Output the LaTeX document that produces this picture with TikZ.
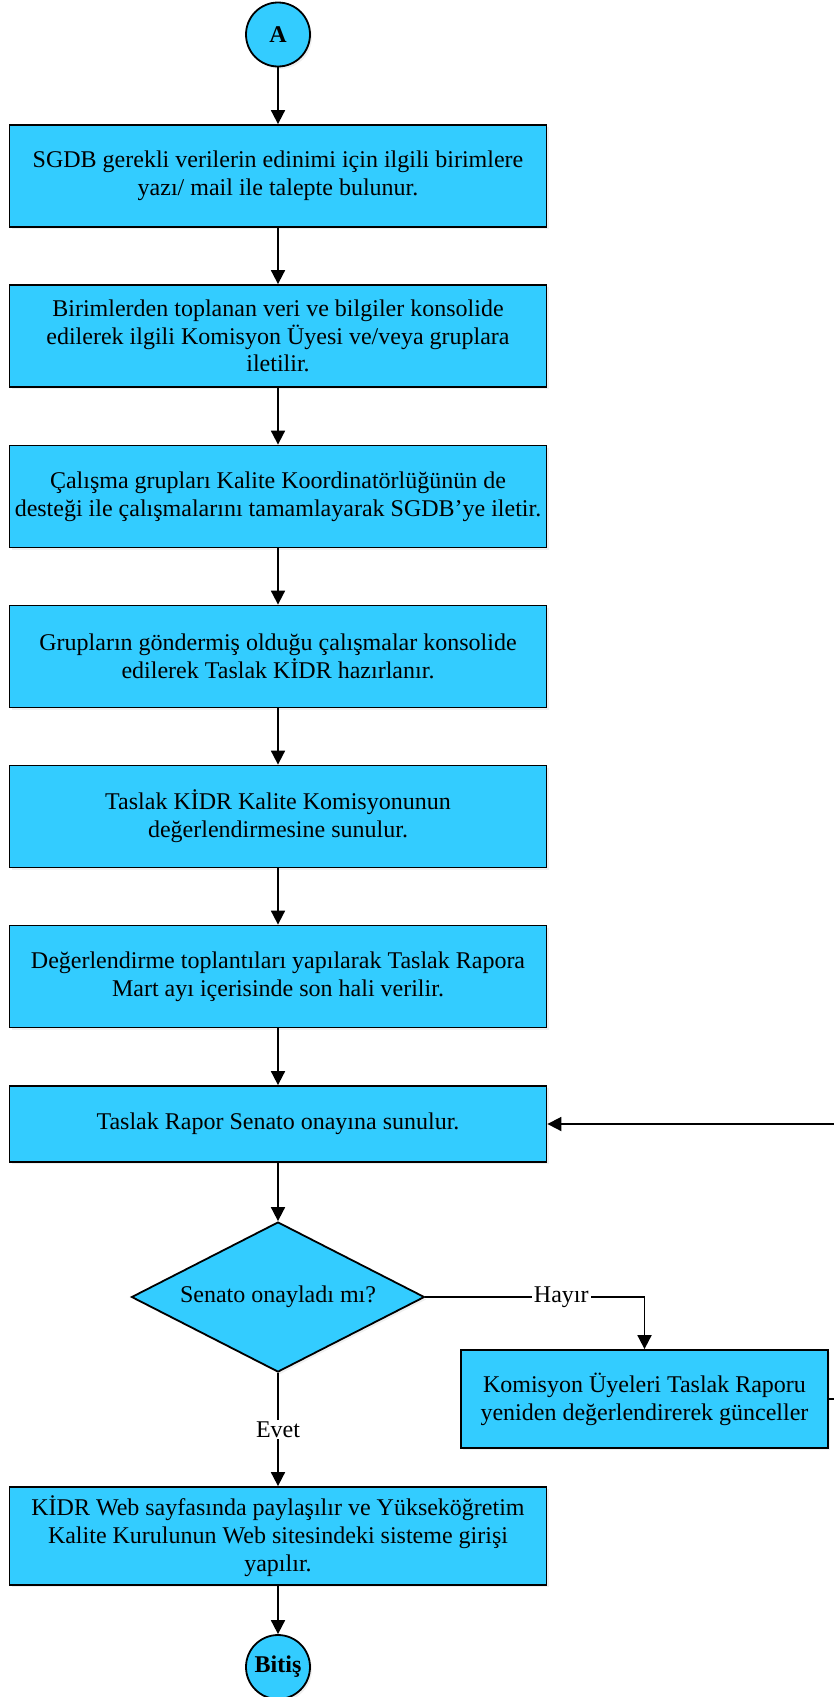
\documentclass[tikz,border=0pt]{standalone}
\usepackage{fontspec}
\setmainfont{Liberation Serif}
\usetikzlibrary{arrows.meta,shapes.geometric,shadows}
\definecolor{akis}{HTML}{33CCFF}
\begin{document}
\begin{tikzpicture}[x=0.5pt,y=-0.5pt,
        yazi/.style={font=\fontsize{12}{13.9}\selectfont},
        golge/.style={drop shadow={opacity=0.12,shadow xshift=1pt,shadow yshift=-1.2pt}},
        kutu/.style={yazi,golge,draw,fill=akis,line width=0.9pt,inner xsep=1pt,minimum width=268.5pt,minimum height=51pt,align=center},
        karar/.style={yazi,golge,draw,fill=akis,line width=0.9pt,diamond,shape aspect=2,inner sep=0pt,minimum width=146.5pt,minimum height=75pt},
        uc/.style={golge,draw,fill=akis,line width=0.9pt,circle,minimum size=32pt,inner sep=0pt,font=\fontsize{12}{13.9}\selectfont\bfseries},
        ok/.style={line width=0.9pt,-{Triangle[length=7pt,width=7pt]}},
        etiket/.style={yazi,fill=white,inner sep=1pt}]
    \useasboundingbox (0,0) rectangle (834,1697);
    \node[uc] (A) at (278,34.5) {A};
    \node[kutu] (S1) at (278,176) {SGDB gerekli verilerin edinimi için ilgili birimlere\\yazı/ mail ile talepte bulunur.};
    \node[kutu] (S2) at (278,336) {Birimlerden toplanan veri ve bilgiler konsolide\\edilerek ilgili Komisyon Üyesi ve/veya gruplara\\iletilir.};
    \node[kutu] (S3) at (278,496.5) {Çalışma grupları Kalite Koordinatörlüğünün de\\desteği ile çalışmalarını tamamlayarak SGDB’ye iletir.};
    \node[kutu] (S4) at (278,656.5) {Grupların göndermiş olduğu çalışmalar konsolide\\edilerek Taslak KİDR hazırlanır.};
    \node[kutu] (S5) at (278,816.5) {Taslak KİDR Kalite Komisyonunun\\değerlendirmesine sunulur.};
    \node[kutu] (S6) at (278,976.5) {Değerlendirme toplantıları yapılarak Taslak Rapora\\Mart ayı içerisinde son hali verilir.};
    \node[kutu,minimum height=38pt] (S7) at (278,1124) {Taslak Rapor Senato onayına sunulur.};
    \node[karar] (D) at (278,1297) {Senato onayladı mı?};
    \node[kutu,minimum width=183.5pt,minimum height=49pt] (K) at (644.5,1399) {Komisyon Üyeleri Taslak Raporu\\yeniden değerlendirerek günceller};
    \node[kutu,minimum height=49pt] (S8) at (278,1536) {KİDR Web sayfasında paylaşılır ve Yükseköğretim\\Kalite Kurulunun Web sitesindeki sisteme girişi\\yapılır.};
    \node[uc] (B) at (278,1667) {Bitiş};
    \draw[ok] (A) -- (S1);
    \draw[ok] (S1) -- (S2);
    \draw[ok] (S2) -- (S3);
    \draw[ok] (S3) -- (S4);
    \draw[ok] (S4) -- (S5);
    \draw[ok] (S5) -- (S6);
    \draw[ok] (S6) -- (S7);
    \draw[ok] (S7) -- (D);
    \draw[ok] (D.east) -| node[etiket,pos=0.31] {Hayır} (K.north);
    \draw[ok] (D.south) -- node[etiket] {Evet} (S8.north);
    \draw[ok] (S8) -- (B);
    \coordinate (R) at (842,1399);
    \draw[ok] (K.east) -- (R) |- (S7.east);
\end{tikzpicture}
\end{document}
